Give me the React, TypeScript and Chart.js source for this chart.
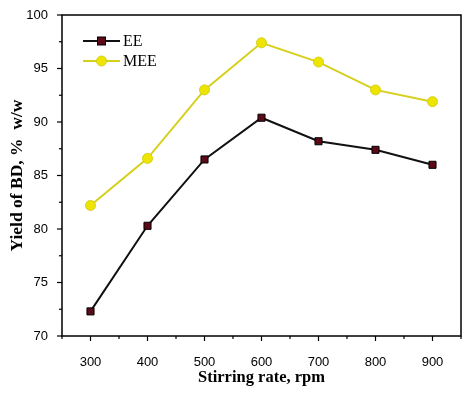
import React, { useEffect, useRef } from "react";
import { Chart, registerables } from "chart.js";

Chart.register(...registerables);

const stirringRates = [300, 400, 500, 600, 700, 800, 900];
const eeYield = [72.3, 80.3, 86.5, 90.4, 88.2, 87.4, 86.0];
const meeYield = [82.2, 86.6, 93.0, 97.4, 95.6, 93.0, 91.9];
const seriesNames = ["EE", "MEE"];
const xTitle = "Stirring rate, rpm";
const yTitle = "Yield of BD, %  w/w";

const EE_LINE = "#111111";
const EE_FILL = "#5c0a18";
const MEE_LINE = "#d6cf1c";
const MEE_FILL = "#ede500";

const framePlugin = {
  id: "frame",
  afterDraw(chart: any) {
    const { ctx, chartArea } = chart;
    const { left, right, top, bottom } = chartArea;
    ctx.save();
    ctx.strokeStyle = "#000";
    ctx.lineWidth = 1.5;
    ctx.strokeRect(left, top, right - left, bottom - top);
    const xs = chart.scales.x;
    const ys = chart.scales.y;
    ctx.lineWidth = 1.2;
    xs.ticks.forEach((t: any) => {
      const major = t.value % 100 === 0;
      const px = xs.getPixelForValue(t.value);
      ctx.beginPath();
      ctx.moveTo(px, bottom);
      ctx.lineTo(px, bottom + (major ? 5 : 3));
      ctx.stroke();
    });
    ys.ticks.forEach((t: any) => {
      const major = t.value % 5 === 0;
      const py = ys.getPixelForValue(t.value);
      ctx.beginPath();
      ctx.moveTo(left, py);
      ctx.lineTo(left - (major ? 5 : 3), py);
      ctx.stroke();
    });
    const items = [
      { name: seriesNames[0], line: EE_LINE, fill: EE_FILL, shape: "rect" },
      { name: seriesNames[1], line: MEE_LINE, fill: MEE_FILL, shape: "circle" },
    ];
    items.forEach((it, i) => {
      const y = 41 + i * 20;
      const x0 = 83;
      const x1 = 120;
      ctx.strokeStyle = it.line;
      ctx.lineWidth = 2;
      ctx.beginPath();
      ctx.moveTo(x0, y);
      ctx.lineTo(x1, y);
      ctx.stroke();
      const cx = (x0 + x1) / 2;
      ctx.fillStyle = it.fill;
      if (it.shape === "rect") {
        ctx.fillRect(cx - 4, y - 4, 8, 8);
        ctx.strokeStyle = "#000";
        ctx.lineWidth = 1;
        ctx.strokeRect(cx - 4, y - 4, 8, 8);
      } else {
        ctx.beginPath();
        ctx.arc(cx, y, 5, 0, Math.PI * 2);
        ctx.fill();
        ctx.strokeStyle = MEE_LINE;
        ctx.lineWidth = 1;
        ctx.stroke();
      }
      ctx.fillStyle = "#000";
      ctx.font = '16px "Liberation Serif", serif';
      ctx.textBaseline = "middle";
      ctx.textAlign = "left";
      ctx.fillText(it.name, x1 + 3, y + 1);
    });
    ctx.restore();
  },
};

export default function App() {
  const ref = useRef<HTMLCanvasElement>(null);
  useEffect(() => {
    document.body.style.margin = "0";
    const canvas = ref.current!;
    const chart = new Chart(canvas, {
      type: "line",
      data: {
        datasets: [
          {
            label: seriesNames[0],
            data: stirringRates.map((x, i) => ({ x, y: eeYield[i] })),
            borderColor: EE_LINE,
            backgroundColor: EE_FILL,
            pointBackgroundColor: EE_FILL,
            pointBorderColor: "#000",
            pointBorderWidth: 1,
            pointStyle: "rect",
            pointRadius: 5,
            borderWidth: 2,
          },
          {
            label: seriesNames[1],
            data: stirringRates.map((x, i) => ({ x, y: meeYield[i] })),
            borderColor: MEE_LINE,
            backgroundColor: MEE_FILL,
            pointBackgroundColor: MEE_FILL,
            pointBorderColor: MEE_LINE,
            pointBorderWidth: 1,
            pointStyle: "circle",
            pointRadius: 5,
            borderWidth: 2,
          },
        ],
      },
      options: {
        animation: false,
        responsive: false,
        layout: { padding: { left: 0, right: 13, top: 15, bottom: 0 } },
        plugins: { legend: { display: false }, tooltip: { enabled: false } },
        scales: {
          x: {
            type: "linear",
            min: 250,
            max: 950,
            grid: { display: false },
            border: { display: false },
            afterFit: (s: any) => {
              s.height = 57;
            },
            ticks: {
              stepSize: 50,
              autoSkip: false,
              maxRotation: 0,
              padding: 11,
              color: "#000",
              font: { family: '"Liberation Sans", Arial, sans-serif', size: 13 },
              callback: (v: any) => (Number(v) % 100 === 0 ? String(v) : ""),
            },
            title: {
              display: true,
              text: xTitle,
              color: "#000",
              font: { family: '"Liberation Serif", serif', size: 16.5, weight: "bold" },
              padding: { top: 0, bottom: 5 },
            },
          },
          y: {
            min: 70,
            max: 100,
            grid: { display: false },
            border: { display: false },
            afterFit: (s: any) => {
              s.width = 62;
            },
            ticks: {
              stepSize: 2.5,
              autoSkip: false,
              padding: 6,
              color: "#000",
              font: { family: '"Liberation Sans", Arial, sans-serif', size: 13 },
              callback: (v: any) => (Number(v) % 5 === 0 ? String(v) : ""),
            },
            title: {
              display: true,
              text: yTitle,
              color: "#000",
              font: { family: '"Liberation Serif", serif', size: 17.5, weight: "bold" },
              padding: { top: 7, bottom: 0 },
            },
          },
        },
      },
      plugins: [framePlugin],
    });
    return () => chart.destroy();
  }, []);
  return (
    <div style={{ width: 474, height: 393, background: "#fff" }}>
      <canvas ref={ref} width={474} height={393} style={{ display: "block" }} />
    </div>
  );
}
